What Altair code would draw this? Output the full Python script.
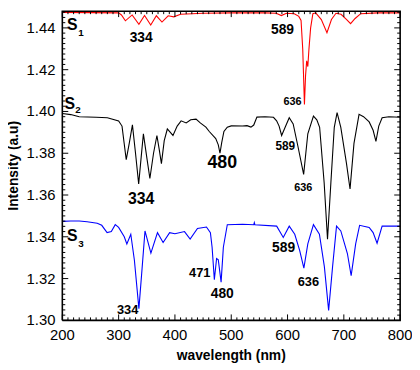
import altair as alt
import pandas as pd

# ---- data ----
s1_w = [200, 250, 300, 305, 312, 324, 336, 346, 357, 367, 377, 388, 398, 410, 450, 500, 560, 580,
        589, 598, 612, 620, 624, 627, 630, 632, 634, 636, 638, 641, 645, 650, 660, 670, 678, 686,
        695, 705, 712, 720, 730, 760, 800]
s1_v = [1.4474, 1.4473, 1.4472, 1.4462, 1.4434, 1.4462, 1.4417, 1.4459, 1.4414, 1.4458, 1.4428,
        1.4458, 1.4453, 1.4465, 1.4470, 1.4472, 1.4472, 1.4470, 1.4459, 1.4470, 1.4468, 1.4455,
        1.4436, 1.4298, 1.4033, 1.4172, 1.4242, 1.4215, 1.4298, 1.4400, 1.4468, 1.4472, 1.4440,
        1.4377, 1.4440, 1.4470, 1.4465, 1.4440, 1.4420, 1.4445, 1.4468, 1.4472, 1.4472]

s2_w = [200, 215, 230, 260, 280, 300, 306, 313.5, 319, 324.5, 330, 335.6, 340, 344, 350, 355.5,
        362, 368, 372, 376, 381, 386.5, 396.5, 404, 411, 420, 428, 437.5, 445, 455, 461, 472.5,
        477, 480, 483, 487, 493, 500, 520, 528, 535, 540, 545.6, 560, 575, 580.6, 585, 589.5,
        595, 603, 610, 618.6, 628.6, 636, 646, 652, 657, 665, 671, 677, 683, 688, 694.6, 704.6,
        711, 718, 727, 735, 745, 752, 757, 762, 768, 780, 800]
s2_v = [1.3990, 1.3985, 1.3975, 1.3972, 1.3970, 1.3955, 1.3930, 1.3769, 1.3850, 1.3936, 1.3800,
        1.3653, 1.3780, 1.3893, 1.3780, 1.3679, 1.3800, 1.3885, 1.3820, 1.3750, 1.3860, 1.3916,
        1.3885, 1.3930, 1.3955, 1.3945, 1.3960, 1.3963, 1.3945, 1.3925, 1.3904, 1.3870, 1.3840,
        1.3800, 1.3850, 1.3904, 1.3925, 1.3931, 1.3930, 1.3932, 1.3925, 1.3935, 1.3973, 1.3975,
        1.3972, 1.3955, 1.3930, 1.3885, 1.3920, 1.3970, 1.3940, 1.3831, 1.3699, 1.3893, 1.3978,
        1.3960, 1.3924, 1.3660, 1.3389, 1.3660, 1.3924, 1.3994, 1.3924, 1.3753, 1.3629, 1.3847,
        1.3986, 1.3975, 1.3950, 1.3910, 1.3857, 1.3930, 1.3970, 1.3975, 1.3972]

s3_w = [200, 215, 230, 244, 262, 270, 279.5, 287, 294, 300, 310, 314.6, 321.6, 328, 336, 341,
        346.8, 357.3, 369, 379, 390.6, 400, 417, 427, 440, 456, 463, 466, 470, 474, 477, 482, 486,
        493, 520, 540, 541, 542, 580.7, 592.4, 603, 612.8, 621.5, 629, 636, 646, 656.6, 665.4, 673,
        680, 687, 694.6, 706.3, 713, 721, 728, 745, 752, 759, 768, 800]
s3_v = [1.3474, 1.3476, 1.3476, 1.3472, 1.3465, 1.3455, 1.3420, 1.3425, 1.3458, 1.3445, 1.3400,
        1.3366, 1.3412, 1.3288, 1.3056, 1.3226, 1.3428, 1.3322, 1.3420, 1.3373, 1.3420, 1.3415,
        1.3425, 1.3389, 1.3440, 1.3447, 1.3420, 1.3350, 1.3195, 1.3296, 1.3290, 1.3183, 1.3350,
        1.3458, 1.3460, 1.3458, 1.3468, 1.3458, 1.3451, 1.3397, 1.3451, 1.3412, 1.3335, 1.3250,
        1.3366, 1.3458, 1.3412, 1.3257, 1.3048, 1.3257, 1.3451, 1.3428, 1.3320, 1.3214, 1.3366,
        1.3455, 1.3445, 1.3420, 1.3369, 1.3451, 1.3451]

ann_text = ["S", "1", "334", "589", "636",
            "S", "2", "334", "480", "589", "636",
            "S", "3", "589", "471", "480", "636", "334"]
ann_w = [217.5, 233, 340, 591, 609,
         213, 228, 340, 484, 596, 628,
         217.5, 233, 593, 444, 484, 637, 316]
ann_v = [1.4414, 1.4377, 1.4349, 1.4391, 1.4047,
         1.4037, 1.4005, 1.3581, 1.3753, 1.3833, 1.3633,
         1.3405, 1.3363, 1.3344, 1.3228, 1.3126, 1.3181, 1.3051]
ann_size = [16, 10, 14, 14, 11,
            16, 10, 16, 18, 12, 11,
            16, 10, 14, 13, 14, 13, 13]

x_major = [200, 300, 400, 500, 600, 700, 800]
y_major = [1.30, 1.32, 1.34, 1.36, 1.38, 1.40, 1.42, 1.44]
x_minor = list(range(200, 801, 10))
y_minor = [round(1.30 + 0.0025 * i, 4) for i in range(0, 60)]
x_title = "wavelength (nm)"
y_title = "Intensity (a.u)"

X0, X1 = 200, 800
Y0, Y1 = 1.30, 1.448
W, H = 342, 313
FONT = "Liberation Sans"
MAJ, MIN = 6, 3
DX = (X1 - X0) / W      # data units per pixel along x
DY = (Y1 - Y0) / H      # data units per pixel along y

d1 = pd.DataFrame({"w": s1_w, "v": s1_v})
d2 = pd.DataFrame({"w": s2_w, "v": s2_v})
d3 = pd.DataFrame({"w": s3_w, "v": s3_v})
dann = pd.DataFrame({"t": ann_text, "w": ann_w, "v": ann_v, "s": ann_size})
dxmaj = pd.DataFrame({"t": x_major, "lab": [str(v) for v in x_major]})
dymaj = pd.DataFrame({"t": y_major, "lab": [f"{v:.2f}" for v in y_major]})
dxt = pd.DataFrame({"lab": [x_title]})
dyt = pd.DataFrame({"lab": [y_title]})

# axis frame (plot-area border) as a closed outline along the scale limits
dframe = pd.DataFrame({"w": [X0, X1, X1, X0, X0], "v": [Y0, Y0, Y1, Y1, Y0], "o": [0, 1, 2, 3, 4]})

# inward tick marks as short two-point segments built from the tick value lists
rows = []
k = 0
for t in x_minor:
    L = MAJ if t in x_major else MIN
    rows += [(k, t, Y0), (k, t, Y0 + L * DY)]
    k += 1
    rows += [(k, t, Y1), (k, t, Y1 - L * DY)]
    k += 1
for v in y_minor:
    L = MAJ if any(abs(v - m) < 1e-6 for m in y_major) else MIN
    rows += [(k, X0, v), (k, X0 + L * DX, v)]
    k += 1
    rows += [(k, X1, v), (k, X1 - L * DX, v)]
    k += 1
dticks = pd.DataFrame(rows, columns=["id", "w", "v"])

xs = alt.Scale(domain=[X0, X1], nice=False, zero=False)
ys = alt.Scale(domain=[Y0, Y1], nice=False, zero=False)


def line(df, color):
    return alt.Chart(df).mark_line(color=color, strokeWidth=1.1).encode(
        x=alt.X("w:Q", scale=xs, axis=None),
        y=alt.Y("v:Q", scale=ys, axis=None),
    )


txt = alt.Chart(dann).mark_text(font=FONT, fontWeight="bold", color="black",
                                align="center", baseline="middle").encode(
    x=alt.X("w:Q", scale=xs, axis=None),
    y=alt.Y("v:Q", scale=ys, axis=None),
    text="t:N",
    size=alt.Size("s:Q", scale=None, legend=None),
)

ticks = alt.Chart(dticks).mark_line(color="black", strokeWidth=1).encode(
    x=alt.X("w:Q", scale=xs, axis=None),
    y=alt.Y("v:Q", scale=ys, axis=None),
    detail="id:N",
)

frame = alt.Chart(dframe).mark_line(color="black", strokeWidth=1.6).encode(
    x=alt.X("w:Q", scale=xs, axis=None),
    y=alt.Y("v:Q", scale=ys, axis=None),
    order="o:Q",
)

xlabels = alt.Chart(dxmaj).mark_text(font=FONT, fontSize=15, color="black",
                                     align="center", baseline="middle").encode(
    x=alt.X("t:Q", scale=xs, axis=None), y=alt.value(H + 15), text="lab:N")
ylabels = alt.Chart(dymaj).mark_text(font=FONT, fontSize=15, color="black",
                                     align="right", baseline="middle").encode(
    y=alt.Y("t:Q", scale=ys, axis=None), x=alt.value(-7), text="lab:N")
xtitle = alt.Chart(dxt).mark_text(font=FONT, fontSize=14, fontWeight="bold", color="black",
                                  align="center", baseline="middle").encode(
    x=alt.value(W / 2), y=alt.value(H + 36), text="lab:N")
ytitle = alt.Chart(dyt).mark_text(font=FONT, fontSize=14, fontWeight="bold", color="black",
                                  align="center", baseline="middle", angle=270).encode(
    x=alt.value(-49), y=alt.value(H / 2), text="lab:N")

layers = [line(d1, "#ff0000"), line(d2, "black"), line(d3, "#0000ff"), ticks, frame, txt,
          xlabels, ylabels, xtitle, ytitle]

chart = alt.layer(*layers).properties(
    width=W, height=H,
    autosize=alt.AutoSizeParams(type="none"),
    padding={"left": 55, "top": 1, "right": 12, "bottom": 45},
).configure_view(stroke=None)

chart.save("out.html", embed_options={"renderer": "svg", "actions": False})
